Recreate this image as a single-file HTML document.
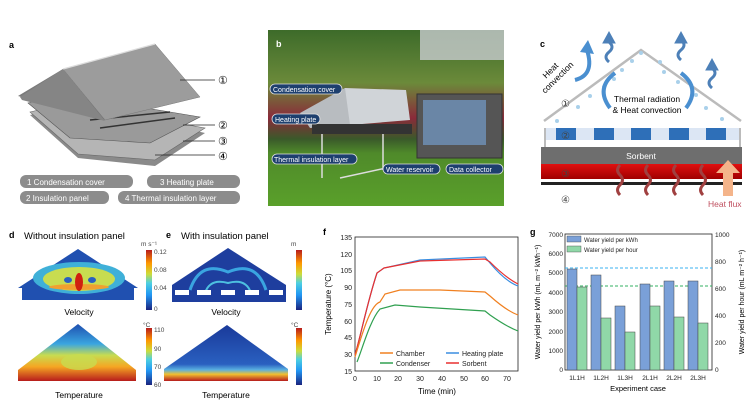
<!DOCTYPE html>
<html><head><meta charset="utf-8"><style>
body{margin:0;background:#fff;}
svg{display:block;font-family:"Liberation Sans",Arial,sans-serif;}
</style></head><body>
<svg width="756" height="407" viewBox="0 0 756 407" xmlns="http://www.w3.org/2000/svg">
<defs>
<linearGradient id="cb" x1="0" y1="1" x2="0" y2="0">
<stop offset="0" stop-color="#1a237e"/><stop offset="0.25" stop-color="#2196f3"/><stop offset="0.45" stop-color="#4dd0e1"/><stop offset="0.6" stop-color="#cddc39"/><stop offset="0.78" stop-color="#ff9800"/><stop offset="1" stop-color="#b71c1c"/>
</linearGradient>
<linearGradient id="tempd" x1="0" y1="0" x2="0" y2="1">
<stop offset="0" stop-color="#1e4fb0"/><stop offset="0.35" stop-color="#3aa5e0"/><stop offset="0.55" stop-color="#c8dc50"/><stop offset="0.75" stop-color="#f5a623"/><stop offset="1" stop-color="#b71c1c"/>
</linearGradient>
<linearGradient id="tempe" x1="0" y1="0" x2="0" y2="1">
<stop offset="0" stop-color="#1a3a9a"/><stop offset="0.7" stop-color="#2a60c0"/><stop offset="0.8" stop-color="#5ab0e0"/><stop offset="0.88" stop-color="#f0c030"/><stop offset="1" stop-color="#b71c1c"/>
</linearGradient>
<linearGradient id="sky" x1="0" y1="0" x2="0" y2="1">
<stop offset="0" stop-color="#3d6b2a"/><stop offset="0.3" stop-color="#6b8a3a"/><stop offset="0.5" stop-color="#8a2a3a"/><stop offset="0.62" stop-color="#3a5a2a"/><stop offset="0.7" stop-color="#4f8a2a"/><stop offset="1" stop-color="#5aa02a"/>
</linearGradient>
<linearGradient id="red" x1="0" y1="0" x2="0" y2="1"><stop offset="0" stop-color="#e01010"/><stop offset="1" stop-color="#a00000"/></linearGradient>
</defs>

<!-- Panel a -->
<text x="9" y="48" font-size="9" font-weight="bold">a</text>
<polygon points="30,115 78,158 155,166 205,133 150,120 60,108" fill="#8a8a8a"/>
<polygon points="30,112 78,154 155,160 205,128 150,118 60,105" fill="#b5b5b5" stroke="#666" stroke-width="0.6"/>
<polygon points="28,103 70,138 150,143 200,117 140,107 60,95" fill="#9a9a9a" stroke="#555" stroke-width="0.6"/>
<line x1="90" y1="120" x2="170" y2="112" stroke="#333" stroke-width="1.5"/>
<line x1="100" y1="128" x2="175" y2="118" stroke="#333" stroke-width="1.5"/>
<polygon points="18,96 63,69 105,120" fill="#7a7a7a"/>
<polygon points="63,69 155,44 200,97 105,120" fill="#9c9c9c" stroke="#777" stroke-width="0.5"/>
<polygon points="20,97 63,69 105,121 22,100" fill="#858585"/>
<line x1="63" y1="69" x2="155" y2="44" stroke="#ddd" stroke-width="1.2"/>
<g stroke="#222" stroke-width="0.8"><line x1="180" y1="80" x2="215" y2="80"/><line x1="183" y1="125" x2="215" y2="125"/><line x1="183" y1="141" x2="215" y2="141"/><line x1="155" y1="155" x2="215" y2="155"/></g>
<g font-family="Liberation Serif,serif" font-size="11"><text x="218" y="84">①</text><text x="218" y="129">②</text><text x="218" y="145">③</text><text x="218" y="160">④</text></g>
<g fill="#8c8c8c"><rect x="20" y="175" width="113" height="13" rx="6"/><rect x="147" y="175" width="93" height="13" rx="6"/><rect x="20" y="191" width="89" height="13" rx="6"/><rect x="118" y="191" width="122" height="13" rx="6"/></g>
<g fill="#fff" font-size="8"><text x="27" y="185">1 Condensation cover</text><text x="160" y="185">3 Heating plate</text><text x="26" y="201">2 Insulation panel</text><text x="125" y="201">4 Thermal insulation layer</text></g>

<!-- Panel b -->
<rect x="268" y="30" width="236" height="176" fill="url(#sky)"/>
<rect x="420" y="30" width="84" height="30" fill="#c8ccd0" opacity="0.8"/>
<polygon points="310,112 345,88 406,90 410,120 350,125" fill="#d0d4d8"/>
<polygon points="300,113 345,88 350,125 310,128" fill="#b8bcc0"/>
<rect x="312" y="124" width="100" height="10" fill="#333"/>
<rect x="417" y="94" width="85" height="64" fill="#555" stroke="#333"/>
<rect x="423" y="100" width="63" height="45" fill="#6a86a6"/>
<g stroke="#ddd" stroke-width="1.5"><line x1="322" y1="134" x2="322" y2="178"/><line x1="383" y1="134" x2="383" y2="170"/><line x1="340" y1="178" x2="400" y2="165"/></g>
<text x="276" y="47" font-size="9" font-weight="bold" fill="#fff">b</text>
<g fill="#1d3f6e" stroke="#e0e0e0" stroke-width="0.8"><rect x="270" y="84" width="72" height="10" rx="5"/><rect x="272" y="114" width="48" height="10" rx="5"/><rect x="272" y="154" width="85" height="10" rx="5"/><rect x="383" y="164" width="57" height="10" rx="5"/><rect x="446" y="164" width="57" height="10" rx="5"/></g>
<g fill="#fff" font-size="7"><text x="273" y="92">Condensation cover</text><text x="275" y="122">Heating plate</text><text x="274" y="162">Thermal insulation layer</text><text x="386" y="172">Water reservoir</text><text x="449" y="172">Data collector</text></g>

<!-- Panel c -->
<text x="540" y="47" font-size="9" font-weight="bold">c</text>
<polyline points="544,121 641,50 741,121" fill="none" stroke="#bbb" stroke-width="2.5"/>
<rect x="546" y="128" width="195" height="12" fill="#dce6f4"/>
<g fill="#2e6fb8"><rect x="556" y="128" width="20" height="12"/><rect x="594" y="128" width="20" height="12"/><rect x="631" y="128" width="20" height="12"/><rect x="669" y="128" width="20" height="12"/><rect x="706" y="128" width="20" height="12"/></g>
<g fill="none" stroke="#bbb" stroke-width="2"><polyline points="545,128 545,147"/><polyline points="740,128 740,147"/></g>
<rect x="541" y="147" width="201" height="17" fill="#6e6e6e"/>
<text x="641" y="159" font-size="8.5" fill="#fff" text-anchor="middle">Sorbent</text>
<rect x="541" y="164" width="201" height="15" fill="url(#red)"/>
<rect x="541" y="182" width="201" height="3" fill="#222"/>
<g font-family="Liberation Serif,serif" font-size="10" fill="#444"><text x="561" y="107">①</text><text x="561" y="139">②</text><text x="561" y="177">③</text><text x="561" y="203">④</text></g>
<g fill="#a9d0ea"><circle cx="641" cy="53" r="2"/><circle cx="632" cy="61" r="2"/><circle cx="660" cy="62" r="2"/><circle cx="622" cy="70" r="2"/><circle cx="664" cy="72" r="2"/><circle cx="614" cy="79" r="2"/><circle cx="678" cy="82" r="2"/><circle cx="604" cy="87" r="2"/><circle cx="696" cy="95" r="2"/><circle cx="578" cy="107" r="2"/><circle cx="706" cy="108" r="2"/><circle cx="557" cy="121" r="2"/><circle cx="722" cy="119" r="2"/><circle cx="590" cy="96" r="2"/></g>
<g fill="#4d80b8" stroke="#4d80b8"><path d="M609,62 q-6,-5 0,-10 q6,-5 0,-10" fill="none" stroke-width="3"/><polygon points="603,43 609,32 615,43"/><path d="M681,60 q-6,-5 0,-10 q6,-5 0,-10" fill="none" stroke-width="3"/><polygon points="675,43 681,32 687,43"/><path d="M712,88 q-6,-5 0,-10 q6,-5 0,-10" fill="none" stroke-width="3"/><polygon points="706,70 712,59 718,70"/></g>
<path d="M575,80 q20,-5 12,-30" fill="none" stroke="#4a8fd0" stroke-width="4"/><polygon points="580,52 588,40 594,54" fill="#4a8fd0"/>
<path d="M610,108 q-15,-20 5,-35" fill="none" stroke="#4a8fd0" stroke-width="4"/><path d="M686,108 q15,-20 -5,-35" fill="none" stroke="#4a8fd0" stroke-width="4"/>
<text transform="translate(556,76) rotate(-45)" font-size="8.5" text-anchor="middle"><tspan x="0" y="-5">Heat</tspan><tspan x="0" y="5">convection</tspan></text>
<text x="647" y="102" font-size="8.5" text-anchor="middle">Thermal radiation</text>
<text x="647" y="113" font-size="8.5" text-anchor="middle">&amp; Heat convection</text>
<g fill="none" stroke="#a04040" stroke-width="3"><path d="M620,195 q-5,-5 0,-10 q5,-5 0,-10 q-5,-5 0,-10"/><path d="M648,195 q-5,-5 0,-10 q5,-5 0,-10 q-5,-5 0,-10"/><path d="M676,195 q-5,-5 0,-10 q5,-5 0,-10 q-5,-5 0,-10"/><path d="M703,195 q-5,-5 0,-10 q5,-5 0,-10 q-5,-5 0,-10"/></g>
<rect x="723" y="172" width="10" height="24" fill="#f4b48a"/><polygon points="716,173 728,160 740,173" fill="#f4b48a"/>
<text x="708" y="207" font-size="8.5" fill="#c05060">Heat flux</text>

<!-- Panel d -->
<text x="9" y="238" font-size="9" font-weight="bold">d</text>
<text x="24" y="239" font-size="9.5">Without insulation panel</text>
<polygon points="22,300 22,288 18,288 78,249 138,288 134,288 134,300" fill="#2050b0"/>
<ellipse cx="79" cy="278" rx="46" ry="16" fill="#3fb0d8"/>
<ellipse cx="79" cy="279" rx="36" ry="12" fill="#c8dc50"/>
<ellipse cx="79" cy="287" rx="30" ry="3" fill="#f0a030"/>
<ellipse cx="79" cy="282" rx="4" ry="9" fill="#d02010"/>
<ellipse cx="68" cy="280" rx="4" ry="3" fill="#2a60c0"/><ellipse cx="92" cy="280" rx="4" ry="3" fill="#2a60c0"/>
<text x="79" y="315" font-size="8.5" text-anchor="middle">Velocity</text>
<polygon points="18,381 18,370 78,324 136,370 136,381" fill="url(#tempd)"/>
<ellipse cx="79" cy="362" rx="18" ry="8" fill="#c8dc50" opacity="0.8"/>
<text x="79" y="398" font-size="8.5" text-anchor="middle">Temperature</text>
<rect x="146" y="250" width="6" height="60" fill="url(#cb)"/>
<rect x="146" y="328" width="6" height="57" fill="url(#cb)"/>
<g font-size="6.5" fill="#444"><text x="141" y="246">m s⁻¹</text><text x="154" y="254">0.12</text><text x="154" y="272">0.08</text><text x="154" y="290">0.04</text><text x="154" y="311">0</text><text x="143" y="327">°C</text><text x="154" y="332">110</text><text x="154" y="351">90</text><text x="154" y="369">70</text><text x="154" y="387">60</text></g>

<!-- Panel e -->
<text x="166" y="238" font-size="9" font-weight="bold">e</text>
<text x="181" y="239" font-size="9.5">With insulation panel</text>
<polygon points="172,302 172,285 228,248 286,285 286,302" fill="#1e3e9e"/>
<path d="M190,290 q10,-30 38,-18 q28,-12 38,18" fill="none" stroke="#3aa5e0" stroke-width="3"/>
<path d="M205,293 q5,-15 23,-10 q18,-5 23,10" fill="none" stroke="#4dc0e0" stroke-width="2"/>
<g fill="#fff"><rect x="175" y="290" width="14" height="5"/><rect x="197" y="290" width="14" height="5"/><rect x="221" y="290" width="14" height="5"/><rect x="245" y="290" width="14" height="5"/><rect x="269" y="290" width="14" height="5"/></g>
<text x="226" y="315" font-size="8.5" text-anchor="middle">Velocity</text>
<polygon points="164,381 164,369 227,325 288,369 288,381" fill="url(#tempe)"/>
<text x="226" y="398" font-size="8.5" text-anchor="middle">Temperature</text>
<rect x="296" y="250" width="6" height="60" fill="url(#cb)"/>
<rect x="296" y="328" width="6" height="57" fill="url(#cb)"/>
<g font-size="6.5" fill="#444"><text x="291" y="246">m</text><text x="291" y="327">°C</text></g>

<!-- Panel f -->
<text x="323" y="235" font-size="9" font-weight="bold">f</text>
<rect x="355" y="237" width="163" height="134" fill="none" stroke="#222" stroke-width="0.8"/>
<g font-size="7" text-anchor="end" fill="#222"><text x="352" y="240">135</text><text x="352" y="257">120</text><text x="352" y="273">105</text><text x="352" y="290">90</text><text x="352" y="307">75</text><text x="352" y="324">60</text><text x="352" y="340">45</text><text x="352" y="357">30</text><text x="352" y="374">15</text></g>
<g font-size="7" text-anchor="middle" fill="#222"><text x="355" y="381">0</text><text x="377" y="381">10</text><text x="398" y="381">20</text><text x="420" y="381">30</text><text x="442" y="381">40</text><text x="464" y="381">50</text><text x="485" y="381">60</text><text x="507" y="381">70</text></g>
<text x="437" y="394" font-size="8" text-anchor="middle">Time (min)</text>
<text transform="translate(331,304) rotate(-90)" font-size="8" text-anchor="middle">Temperature (°C)</text>
<g fill="none" stroke-width="1.2">
<path d="M355,356 C362,330 368,300 377,273 L384,268 L420,260 L485,257 L490,263 C500,275 510,283 518,286" stroke="#3a8ee0"/>
<path d="M355,355 C362,330 368,300 377,273 L384,268 L420,261 L485,259 L490,262 C500,272 510,280 518,284" stroke="#e83030"/>
<path d="M355,357 C362,335 370,305 380,302 L385,294 L400,290 L440,290 L485,292 L490,296 C500,305 510,312 518,315" stroke="#f08020"/>
<path d="M357,362 C362,350 370,320 380,309 L395,305 L420,307 L485,311 L490,315 C500,322 510,328 518,331" stroke="#30a050"/>
</g>
<g font-size="7" fill="#222"><line x1="380" y1="353" x2="393" y2="353" stroke="#f08020" stroke-width="1.5"/><text x="396" y="356">Chamber</text>
<line x1="380" y1="363" x2="393" y2="363" stroke="#30a050" stroke-width="1.5"/><text x="396" y="366">Condenser</text>
<line x1="446" y1="353" x2="459" y2="353" stroke="#3a8ee0" stroke-width="1.5"/><text x="462" y="356">Heating plate</text>
<line x1="446" y1="363" x2="459" y2="363" stroke="#e83030" stroke-width="1.5"/><text x="462" y="366">Sorbent</text></g>

<!-- Panel g -->
<text x="530" y="235" font-size="9" font-weight="bold">g</text>
<rect x="565" y="234" width="147" height="136" fill="none" stroke="#222" stroke-width="0.8"/>
<g font-size="6.5" text-anchor="end" fill="#222"><text x="563" y="237">7000</text><text x="563" y="256">6000</text><text x="563" y="275">5000</text><text x="563" y="295">4000</text><text x="563" y="314">3000</text><text x="563" y="334">2000</text><text x="563" y="353">1000</text><text x="563" y="372">0</text></g>
<g font-size="6.5" fill="#222"><text x="715" y="237">1000</text><text x="715" y="264">800</text><text x="715" y="291">600</text><text x="715" y="318">400</text><text x="715" y="345">200</text><text x="715" y="372">0</text></g>
<line x1="565" y1="268" x2="712" y2="268" stroke="#3ab0f0" stroke-dasharray="3,2"/>
<line x1="565" y1="286" x2="712" y2="286" stroke="#30b060" stroke-dasharray="3,2"/>
<g fill="#7aa0d8" stroke="#444" stroke-width="0.5"><rect x="567" y="269" width="10" height="101"/><rect x="591" y="275" width="10" height="95"/><rect x="615" y="306" width="10" height="64"/><rect x="640" y="284" width="10" height="86"/><rect x="664" y="281" width="10" height="89"/><rect x="688" y="281" width="10" height="89"/></g>
<g fill="#90d8a8" stroke="#444" stroke-width="0.5"><rect x="577" y="287" width="10" height="83"/><rect x="601" y="318" width="10" height="52"/><rect x="625" y="332" width="10" height="38"/><rect x="650" y="306" width="10" height="64"/><rect x="674" y="317" width="10" height="53"/><rect x="698" y="323" width="10" height="47"/></g>
<g font-size="6.5" text-anchor="middle" fill="#222"><text x="577" y="380">1L1H</text><text x="601" y="380">1L2H</text><text x="625" y="380">1L3H</text><text x="650" y="380">2L1H</text><text x="674" y="380">2L2H</text><text x="698" y="380">2L3H</text></g>
<text x="638" y="391" font-size="7.5" text-anchor="middle">Experiment case</text>
<g font-size="6" fill="#222"><rect x="567" y="236" width="14" height="6" fill="#7aa0d8" stroke="#444" stroke-width="0.4"/><text x="584" y="242">Water yield per kWh</text><rect x="567" y="246" width="14" height="6" fill="#90d8a8" stroke="#444" stroke-width="0.4"/><text x="584" y="252">Water yield per hour</text></g>
<text transform="translate(540,302) rotate(-90)" font-size="7" text-anchor="middle">Water yield per kWh (mL m⁻² kWh⁻¹)</text>
<text transform="translate(744,302) rotate(-90)" font-size="7" text-anchor="middle">Water yield per hour (mL m⁻² h⁻¹)</text>
</svg>
</body></html>
